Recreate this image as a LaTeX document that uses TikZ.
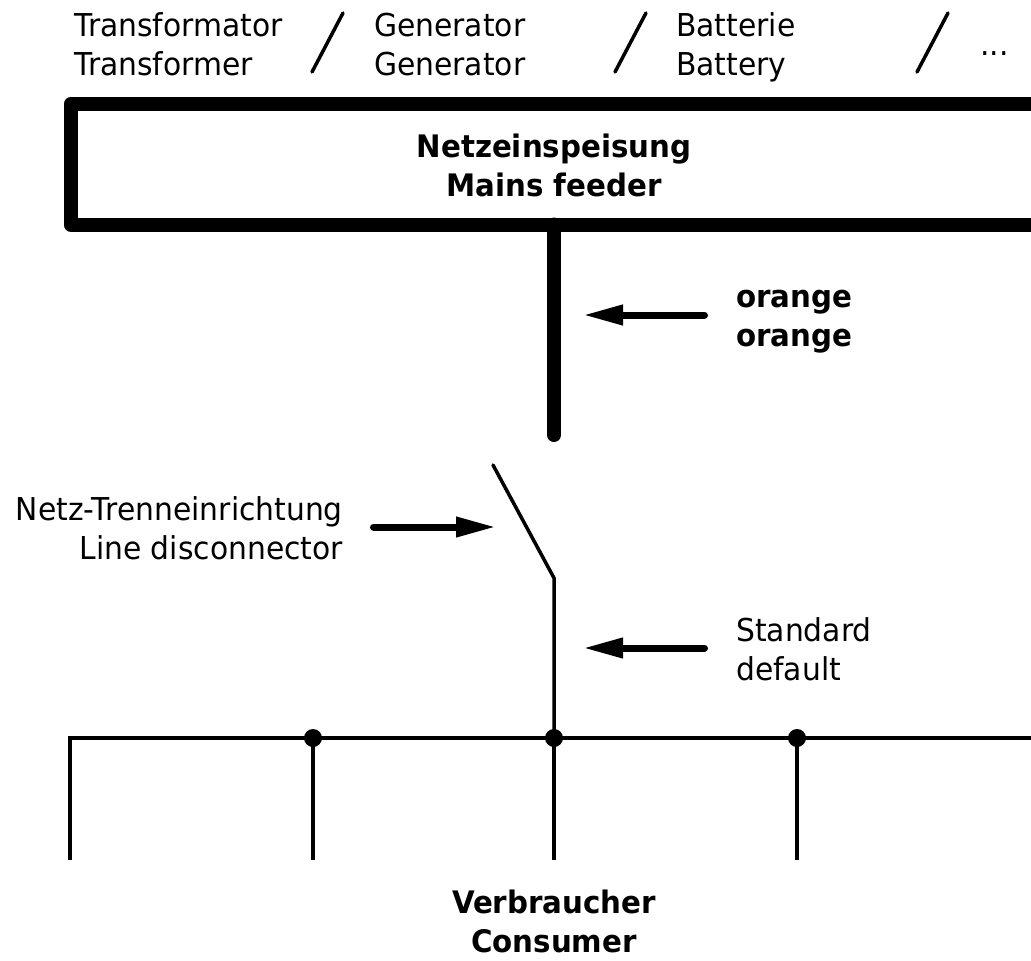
\documentclass[tikz,border=0pt]{standalone}
\usepackage{fontspec}
\setmainfont{DejaVu Sans}[FakeStretch=0.945]
\usetikzlibrary{arrows.meta}
\begin{document}
\begin{tikzpicture}[x=1pt,y=-1pt,
  txt/.style={inner sep=0pt, font=\fontsize{31.5}{39}\selectfont},
  btxt/.style={inner sep=0pt, font=\fontsize{31}{39}\selectfont\bfseries},
  thinline/.style={line width=3.5pt},
  heavyline/.style={line width=14pt},
  pointer/.style={line width=7pt, line cap=round, -{Triangle[length=40pt,width=19pt]}},
  junction/.style={circle, fill=black, inner sep=0pt, minimum size=18pt},
  slashline/.style={line width=3.5pt, line cap=round}]
\useasboundingbox (0,0) rectangle (1031,961);
\clip (0,0) rectangle (1031,961);
% top labels
\node[txt, anchor=base west] (trafo) at (74,36) {\begin{tabular}[t]{@{}l@{}}Transformator\\Transformer\end{tabular}};
\node[txt, anchor=base west] (gen) at (374,36) {\begin{tabular}[t]{@{}l@{}}Generator\\Generator\end{tabular}};
\node[txt, anchor=base west] (batt) at (676,36) {\begin{tabular}[t]{@{}l@{}}Batterie\\Battery\end{tabular}};
\node[txt, anchor=base west] (more) at (980,55) {...};
\coordinate (s1a) at (312,72); \coordinate (s1b) at (343,13);
\coordinate (s2a) at (615,72); \coordinate (s2b) at (646,13);
\coordinate (s3a) at (917,72); \coordinate (s3b) at (948,13);
\draw[slashline] (s1a) -- (s1b);
\draw[slashline] (s2a) -- (s2b);
\draw[slashline] (s3a) -- (s3b);
% mains feeder box
\draw[heavyline, line join=round] (70.5,104) rectangle (1060,224.5);
\node[btxt, anchor=base] (feeder) at (554,157) {\begin{tabular}[t]{@{}c@{}}Netzeinspeisung\\Mains feeder\end{tabular}};
% thick feeder line
\coordinate (feedTop) at (554,224.5);
\coordinate (feedEnd) at (554,435);
\draw[heavyline, line cap=round] (feedTop) -- (feedEnd);
\node[btxt, anchor=base west] (orange) at (736,307) {\begin{tabular}[t]{@{}l@{}}orange\\orange\end{tabular}};
\coordinate (oTail) at (704.5,315); \coordinate (oTip) at (583,315);
\draw[pointer] (oTail) -- (oTip);
% disconnector
\coordinate (swTop) at (493,465);
\coordinate (swKnee) at (554,578);
\node[txt, anchor=base east] (disc) at (343,520) {\begin{tabular}[t]{@{}r@{}}Netz-Trenneinrichtung\\Line disconnector\end{tabular}};
\coordinate (dTail) at (373.5,527); \coordinate (dTip) at (496,527);
\draw[pointer] (dTail) -- (dTip);
% standard
\node[txt, anchor=base west] (std) at (736,641) {\begin{tabular}[t]{@{}l@{}}Standard\\default\end{tabular}};
\coordinate (sTail) at (704.5,648); \coordinate (sTip) at (583,648);
\draw[pointer] (sTail) -- (sTip);
% bus
\node[junction] (j1) at (313,738) {};
\node[junction] (j2) at (554,738) {};
\node[junction] (j3) at (797,738) {};
\coordinate (busL) at (70,860);
\coordinate (busCorner) at (70,738);
\coordinate (busR) at (1040,738);
\coordinate (c1) at (313,860);
\coordinate (c2) at (554,860);
\coordinate (c3) at (797,860);
\draw[thinline, line cap=round] (swTop) -- (swKnee) -- (j2.center);
\draw[thinline] (busL) -- (busCorner) -- (busR);
\draw[thinline] (j1.center) -- (c1);
\draw[thinline] (j2.center) -- (c2);
\draw[thinline] (j3.center) -- (c3);
\node[btxt, anchor=base] (cons) at (554,913) {\begin{tabular}[t]{@{}c@{}}Verbraucher\\Consumer\end{tabular}};
\end{tikzpicture}
\end{document}
